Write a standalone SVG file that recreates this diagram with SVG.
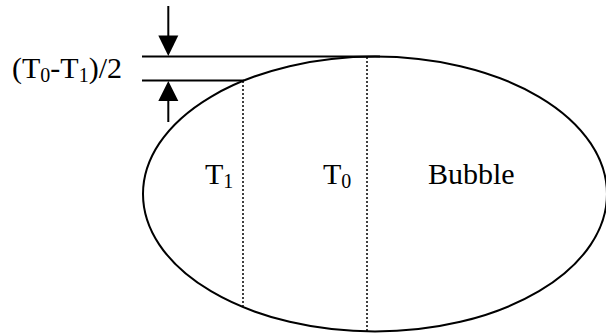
<svg xmlns="http://www.w3.org/2000/svg" width="606" height="335" viewBox="0 0 606 335">
<style>
.ln{stroke:#000;stroke-width:2;fill:none}
.dot{stroke:#000;stroke-width:1.5;stroke-dasharray:2,2;fill:none}
.t{font-family:"Liberation Serif","Times New Roman",serif;font-size:30px;fill:#000}
.s{font-size:20px}
</style>
<rect width="606" height="335" fill="#fff"/>
<g id="bubble">
<ellipse class="ln" cx="375" cy="194" rx="232" ry="137.5"/>
<line class="dot" x1="243" y1="81" x2="243" y2="306"/>
<line class="dot" x1="367" y1="57" x2="367" y2="331"/>
<text class="t" x="205" y="184">T<tspan class="s" dy="4">1</tspan></text>
<text class="t" x="323" y="184">T<tspan class="s" dy="4">0</tspan></text>
<text class="t" x="428" y="184">Bubble</text>
</g>
<g id="dimension">
<line class="ln" x1="142" y1="56.5" x2="380" y2="56.5"/>
<line class="ln" x1="142" y1="80.5" x2="244" y2="80.5"/>
<text class="t" x="12" y="78">(T<tspan class="s" dy="4">0</tspan><tspan dy="-4">-T</tspan><tspan class="s" dy="4">1</tspan><tspan dy="-4">)/2</tspan></text>
</g>
<g id="connectors">
<line class="ln" x1="168.3" y1="6" x2="168.3" y2="38"/>
<polygon points="158.3,35.5 178.3,35.5 168.3,56" fill="#000"/>
<line class="ln" x1="168.3" y1="98" x2="168.3" y2="122"/>
<polygon points="158.3,101 178.3,101 168.3,81" fill="#000"/>
</g>
</svg>
